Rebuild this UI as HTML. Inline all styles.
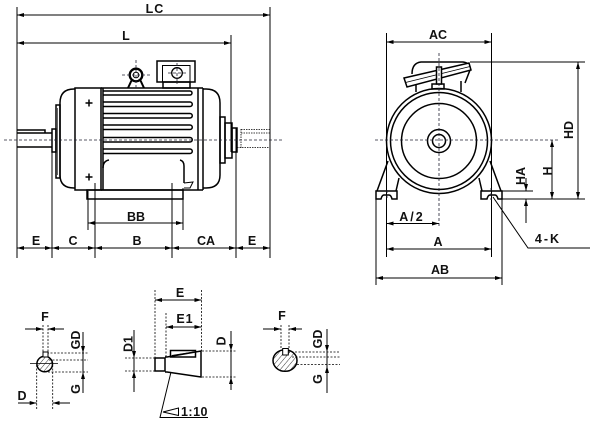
<!DOCTYPE html>
<html><head><meta charset="utf-8"><style>
html,body{margin:0;padding:0;background:#fff;}
svg{display:block;}
text{font-family:"Liberation Sans",sans-serif;font-weight:bold;font-size:12.5px;fill:#111;}
</style></head><body>
<svg width="600" height="427" viewBox="0 0 600 427" xmlns="http://www.w3.org/2000/svg">
<defs>
<marker id="a" viewBox="0 0 7 4" refX="7" refY="2" markerWidth="7" markerHeight="4" markerUnits="userSpaceOnUse" orient="auto-start-reverse"><path d="M0,0L7,2L0,4z" fill="#000"/></marker>
<pattern id="h" patternUnits="userSpaceOnUse" width="4" height="4" patternTransform="rotate(40)"><line x1="0" y1="0" x2="0" y2="4" stroke="#000" stroke-width="0.8"/></pattern>
</defs>
<rect width="600" height="427" fill="#fff"/>

<!-- ============ LEFT SIDE VIEW ============ -->
<g stroke="#000" stroke-width="1" fill="none">
<line x1="17" y1="7" x2="17" y2="258"/>
<line x1="270" y1="7" x2="270" y2="258"/>
<line x1="231" y1="35" x2="231" y2="152"/>
<line x1="236" y1="128" x2="236" y2="258"/>
<line x1="52" y1="150" x2="52" y2="258"/>
<line x1="95" y1="183" x2="95" y2="258"/>
<line x1="172" y1="183" x2="172" y2="258"/>
<line x1="88" y1="191" x2="88" y2="230"/>
<line x1="183" y1="188" x2="183" y2="230"/>
</g>
<g stroke="#000" stroke-width="1" fill="none">
<line x1="17" y1="15" x2="270" y2="15" marker-start="url(#a)" marker-end="url(#a)"/>
<line x1="17" y1="43" x2="231" y2="43" marker-start="url(#a)" marker-end="url(#a)"/>
<line x1="88" y1="223" x2="183" y2="223" marker-start="url(#a)" marker-end="url(#a)"/>
<line x1="17" y1="248" x2="52" y2="248" marker-start="url(#a)" marker-end="url(#a)"/>
<line x1="52" y1="248" x2="95" y2="248" marker-start="url(#a)" marker-end="url(#a)"/>
<line x1="95" y1="248" x2="172" y2="248" marker-start="url(#a)" marker-end="url(#a)"/>
<line x1="172" y1="248" x2="236" y2="248" marker-start="url(#a)" marker-end="url(#a)"/>
<line x1="236" y1="248" x2="270" y2="248" marker-start="url(#a)" marker-end="url(#a)"/>
</g>
<text x="155" y="13" text-anchor="middle" letter-spacing="1">LC</text>
<text x="126" y="40" text-anchor="middle">L</text>
<text x="136" y="221" text-anchor="middle">BB</text>
<text x="36" y="245" text-anchor="middle">E</text>
<text x="73" y="245" text-anchor="middle">C</text>
<text x="137" y="245" text-anchor="middle">B</text>
<text x="206" y="245" text-anchor="middle">CA</text>
<text x="252" y="245" text-anchor="middle">E</text>

<g stroke="#000" stroke-width="1.5" fill="none">
<path d="M17,130 H45 V133"/>
<path d="M17,133 H52 M17,147 H52"/>
<rect x="52" y="129" width="4" height="23"/>
<rect x="56" y="105" width="4" height="73"/>
<line x1="57.5" y1="108" x2="57.5" y2="175" stroke-width="0.6"/>
<path d="M75,89 H74 Q60,89 60,103 V175 Q60,188 74,188 H75"/>
<rect x="75" y="88" width="26" height="102"/>
<path d="M85.5,103 H92.5 M89,99.5 V106.5 M85.5,177 H92.5 M89,173.5 V180.5"/>
<path d="M101,88 H203"/>
<line x1="103" y1="88" x2="103" y2="190"/>
<line x1="198" y1="88" x2="198" y2="190"/>
<line x1="203" y1="88" x2="203" y2="190"/>
<path d="M101,190 H203"/>
<path d="M103,91 H190 A2,2 0 0 1 190,95 H103"/>
<path d="M103,102 H190 A2.2,2.2 0 0 1 190,106.5 H103"/>
<path d="M103,113.5 H190 A2.2,2.2 0 0 1 190,118 H103"/>
<path d="M103,125 H190 A2.2,2.2 0 0 1 190,129.5 H103"/>
<path d="M103,137.5 H190 A2.2,2.2 0 0 1 190,142 H103"/>
<path d="M103,149 H190 A2.2,2.2 0 0 1 190,153.5 H103"/>
<path d="M109,160 Q103,161 103,168"/>
<path d="M180,160 Q184,161 184,166 V183"/>
<path d="M184,183 L193,182 L190,188 L184,188" stroke-width="1"/>
<rect x="87" y="190" width="96" height="9"/>
<path d="M203,89 H206 Q220,89 220,103 V175 Q220,188 206,188 H203"/>
<rect x="220" y="117" width="5" height="46"/>
<rect x="225" y="123" width="7" height="35"/>
<rect x="232" y="128" width="5" height="24"/>
<circle cx="136" cy="75" r="6.3" stroke-width="2.3"/>
<circle cx="136" cy="75" r="2.8" stroke-width="1"/>
<path d="M131.5,80.5 L128,88 M140.5,80.5 L144,88" stroke-width="2"/>
<rect x="157" y="61" width="38" height="21"/>
<path d="M162.5,82 V65.5 H190 V82" stroke-width="1"/>
<rect x="163" y="82" width="27" height="6"/>
<circle cx="177" cy="73" r="5.3" stroke-width="1.3"/>
</g>
<g stroke="#000" stroke-width="0.8" fill="none" stroke-dasharray="1.5,1">
<line x1="241" y1="129.5" x2="270" y2="129.5"/>
<line x1="241" y1="133" x2="270" y2="133"/>
<line x1="237" y1="147.5" x2="270" y2="147.5"/>
<line x1="241" y1="129" x2="241" y2="148"/>
</g>
<g stroke="#223" stroke-width="0.8" fill="none" stroke-dasharray="3,2">
<line x1="4" y1="140" x2="282" y2="140"/>
<line x1="122" y1="75" x2="150" y2="75"/>
<line x1="136" y1="60" x2="136" y2="90"/>
<line x1="168" y1="73" x2="186" y2="73"/>
<line x1="177" y1="63" x2="177" y2="84"/>
</g>

<!-- ============ RIGHT END VIEW ============ -->
<g stroke="#000" stroke-width="1" fill="none">
<line x1="386.5" y1="33" x2="386.5" y2="257"/>
<line x1="491.5" y1="33" x2="491.5" y2="257"/>
<line x1="376" y1="191" x2="376" y2="285"/>
<line x1="502" y1="199" x2="502" y2="285"/>
<line x1="470" y1="62" x2="585" y2="62"/>
<line x1="502" y1="199" x2="585" y2="199"/>
<line x1="497" y1="191" x2="533" y2="191"/>
<line x1="526" y1="199" x2="526" y2="223"/>
<line x1="526" y1="178" x2="526" y2="191"/>
<polyline points="493,197 528,248 590,248"/>
</g>
<g stroke="#000" stroke-width="1" fill="none">
<line x1="386.5" y1="42" x2="491.5" y2="42" marker-start="url(#a)" marker-end="url(#a)"/>
<line x1="578" y1="62" x2="578" y2="199" marker-start="url(#a)" marker-end="url(#a)"/>
<line x1="552" y1="140" x2="552" y2="199" marker-start="url(#a)" marker-end="url(#a)"/>
<line x1="526" y1="180" x2="526" y2="191" marker-end="url(#a)"/>
<line x1="526" y1="212" x2="526" y2="199" marker-end="url(#a)"/>
<line x1="386.5" y1="223.5" x2="439" y2="223.5" marker-start="url(#a)" marker-end="url(#a)"/>
<line x1="386.5" y1="249" x2="491.5" y2="249" marker-start="url(#a)" marker-end="url(#a)"/>
<line x1="376" y1="278" x2="502" y2="278" marker-start="url(#a)" marker-end="url(#a)"/>
</g>
<g stroke="#000" stroke-width="1.5" fill="none">
<circle cx="439" cy="141" r="52.5"/>
<circle cx="439" cy="141" r="48.5"/>
<circle cx="439" cy="141" r="37.5"/>
<circle cx="439" cy="141" r="11.5"/>
<circle cx="439" cy="141" r="6.5"/>
<path d="M412,74 Q412,63 421,62 H463 Q471,63 470,70 L465,83"/>
<polygon points="404,78 469,63 471,70 407,87" fill="#fff"/>
<line x1="405.5" y1="82.5" x2="470" y2="66.5" stroke-width="0.8"/>
<path d="M416,85 V92 M461,81 V92"/>
<rect x="432" y="84" width="12" height="5"/>
<rect x="436.5" y="67" width="5" height="17" fill="#fff"/>
<path d="M388,161 L377,191 M399,178 L396,191"/>
<path d="M490,161 L501,191 M479,178 L482,191"/>
<path d="M376,191 H397 V199 H392 Q391,195 389,195 H384 Q382,195 381,199 H376 Z"/>
<path d="M481,191 H502 V199 H498 Q497,195 495,195 H490 Q488,195 487,199 H481 Z"/>
</g>
<g stroke="#223" stroke-width="0.8" fill="none" stroke-dasharray="3,2">
<line x1="375" y1="140" x2="560" y2="140"/>
<line x1="439" y1="53" x2="439" y2="228"/>
<line x1="387" y1="190" x2="387" y2="200"/>
<line x1="491" y1="188" x2="491" y2="200"/>
</g>
<text x="438" y="39" text-anchor="middle">AC</text>
<text x="412" y="221" text-anchor="middle" letter-spacing="2">A/2</text>
<text x="438" y="246" text-anchor="middle">A</text>
<text x="440" y="274" text-anchor="middle">AB</text>
<text x="548" y="243" text-anchor="middle" letter-spacing="2">4-K</text>
<text transform="translate(569,130) rotate(-90)" text-anchor="middle" dominant-baseline="central">HD</text>
<text transform="translate(548,171) rotate(-90)" text-anchor="middle" dominant-baseline="central">H</text>
<text transform="translate(521,176) rotate(-90)" text-anchor="middle" dominant-baseline="central">HA</text>

<!-- ============ BOTTOM LEFT ============ -->
<g stroke="#000" stroke-width="1" fill="none">
<line x1="25" y1="329" x2="43" y2="329" marker-end="url(#a)"/>
<line x1="64" y1="329" x2="48" y2="329" marker-end="url(#a)"/>
<line x1="18" y1="403" x2="36.7" y2="403" marker-end="url(#a)"/>
<line x1="70" y1="403" x2="52.7" y2="403" marker-end="url(#a)"/>
<line x1="83" y1="332" x2="83" y2="393"/>
<line x1="83" y1="338" x2="83" y2="353" marker-end="url(#a)"/>
<line x1="83" y1="388" x2="83" y2="372" marker-end="url(#a)"/>
<line x1="30" y1="363.5" x2="58" y2="363.5" stroke-width="0.7"/>
</g>
<g stroke="#000" stroke-width="0.8" fill="none" stroke-dasharray="2,1.5">
<line x1="43" y1="325" x2="43" y2="353"/>
<line x1="48" y1="325" x2="48" y2="353"/>
<line x1="36.7" y1="365" x2="36.7" y2="410"/>
<line x1="52.7" y1="365" x2="52.7" y2="410"/>
<line x1="47" y1="353" x2="88" y2="353"/>
<line x1="49" y1="360" x2="88" y2="360"/>
<line x1="48" y1="372" x2="88" y2="372"/>
</g>
<circle cx="44.7" cy="364" r="7.8" fill="url(#h)" stroke="#000" stroke-width="1.5"/>
<rect x="43" y="352" width="5" height="5" fill="#fff" stroke="#000" stroke-width="1"/>
<text x="45" y="321" text-anchor="middle">F</text>
<text x="22" y="400" text-anchor="middle">D</text>
<text transform="translate(76,340) rotate(-90)" text-anchor="middle" dominant-baseline="central">GD</text>
<text transform="translate(76,389) rotate(-90)" text-anchor="middle" dominant-baseline="central">G</text>

<!-- ============ BOTTOM MIDDLE ============ -->
<g stroke="#000" stroke-width="0.8" fill="none" stroke-dasharray="2,1.5">
<line x1="155" y1="290" x2="155" y2="358"/>
<line x1="201.5" y1="290" x2="201.5" y2="351"/>
<line x1="166" y1="313" x2="166" y2="357"/>
<line x1="125" y1="358" x2="155" y2="358"/>
<line x1="125" y1="371" x2="155" y2="371"/>
<line x1="202" y1="351" x2="236" y2="351"/>
<line x1="202" y1="377" x2="236" y2="377"/>
</g>
<g stroke="#000" stroke-width="1" fill="none">
<line x1="155" y1="300" x2="201.5" y2="300" marker-start="url(#a)" marker-end="url(#a)"/>
<line x1="166" y1="327" x2="201.5" y2="327" marker-start="url(#a)" marker-end="url(#a)"/>
<line x1="134" y1="330" x2="134" y2="392"/>
<line x1="134" y1="343" x2="134" y2="358" marker-end="url(#a)"/>
<line x1="134" y1="386" x2="134" y2="371" marker-end="url(#a)"/>
<line x1="231" y1="331" x2="231" y2="390"/>
<line x1="231" y1="338" x2="231" y2="351" marker-end="url(#a)"/>
<line x1="231" y1="388" x2="231" y2="377" marker-end="url(#a)"/>
<polyline points="171,372 160,417.5 208,417.5"/>
<path d="M163,412 L178.5,408 V415.5 Z"/>
</g>
<g stroke="#000" stroke-width="1.5" fill="none">
<rect x="155" y="358" width="10" height="13"/>
<path d="M165,357 H167 L201,351 V377 L167,372 H165"/>
<rect x="170.5" y="350.5" width="25" height="6.5"/>
<line x1="172" y1="355.5" x2="195" y2="351.8" stroke-width="0.9"/>
</g>
<text x="180" y="297" text-anchor="middle">E</text>
<text x="185" y="323" text-anchor="middle" letter-spacing="1">E1</text>
<text x="194.5" y="416" text-anchor="middle" font-size="11" letter-spacing="0.5">1:10</text>
<text transform="translate(128.5,344) rotate(-90)" text-anchor="middle" dominant-baseline="central">D1</text>
<text transform="translate(221.5,341) rotate(-90)" text-anchor="middle" dominant-baseline="central">D</text>

<!-- ============ BOTTOM RIGHT ============ -->
<g stroke="#000" stroke-width="1" fill="none">
<line x1="263" y1="329" x2="281" y2="329" marker-end="url(#a)"/>
<line x1="302" y1="329" x2="289" y2="329" marker-end="url(#a)"/>
<line x1="327" y1="329" x2="327" y2="393"/>
<line x1="327" y1="338" x2="327" y2="352" marker-end="url(#a)"/>
<line x1="327" y1="385" x2="327" y2="366" marker-end="url(#a)"/>
</g>
<g stroke="#000" stroke-width="0.8" fill="none" stroke-dasharray="2,1.5">
<line x1="281" y1="325" x2="281" y2="349"/>
<line x1="289" y1="325" x2="289" y2="349"/>
<line x1="288" y1="352" x2="340" y2="352"/>
<line x1="292" y1="357" x2="340" y2="357"/>
<line x1="297" y1="364.5" x2="340" y2="364.5"/>
</g>
<ellipse cx="285" cy="360.5" rx="12" ry="10.8" fill="url(#h)" stroke="#000" stroke-width="1.5"/>
<rect x="282.7" y="348.5" width="5.6" height="6.5" fill="#fff" stroke="#000" stroke-width="1"/>
<text x="282" y="320" text-anchor="middle">F</text>
<text transform="translate(318,339) rotate(-90)" text-anchor="middle" dominant-baseline="central">GD</text>
<text transform="translate(318,379) rotate(-90)" text-anchor="middle" dominant-baseline="central">G</text>
</svg>
</body></html>
